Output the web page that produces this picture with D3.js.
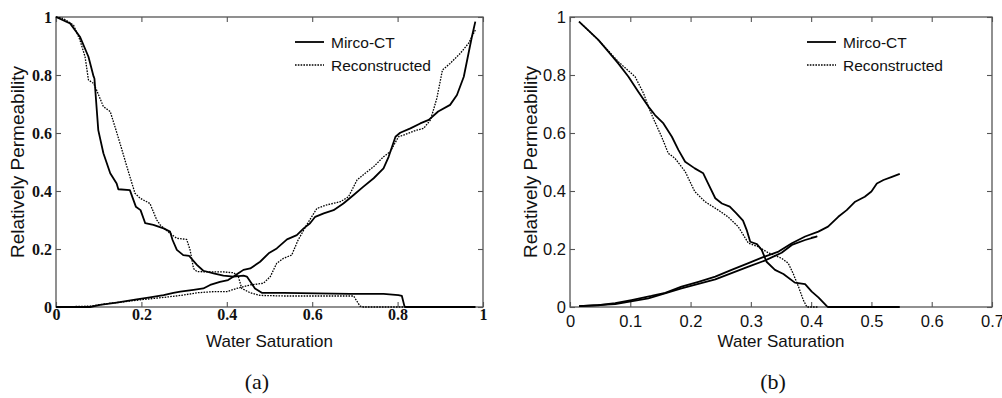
<!DOCTYPE html>
<html>
<head>
<meta charset="utf-8">
<script src="https://cdn.jsdelivr.net/npm/d3@7"></script>
<style>
  body { margin: 0; background: #fff; }
</style>
</head>
<body>
<div id="chart"></div>
<script>
// panel (a) curves, [water saturation, relative permeability]
var aOilMicro = [[0,1],[0.033,0.978],[0.056,0.932],[0.076,0.863],[0.088,0.795],[0.09,0.788],[0.099,0.61],[0.111,0.53],[0.127,0.461],[0.142,0.426],[0.146,0.406],[0.173,0.403],[0.187,0.346],[0.198,0.334],[0.209,0.289],[0.228,0.283],[0.252,0.271],[0.267,0.26],[0.273,0.231],[0.283,0.197],[0.298,0.179],[0.312,0.176],[0.33,0.145],[0.345,0.125],[0.369,0.116],[0.392,0.108],[0.416,0.105],[0.439,0.108],[0.447,0.105],[0.466,0.064],[0.482,0.049],[0.533,0.049],[0.611,0.047],[0.689,0.045],[0.767,0.045],[0.802,0.041],[0.81,0.038],[0.816,0.003],[0.818,0],[0.982,0]];
var aOilRecon = [[0,1],[0.017,0.995],[0.041,0.972],[0.056,0.921],[0.068,0.863],[0.076,0.783],[0.088,0.771],[0.095,0.748],[0.111,0.691],[0.127,0.674],[0.138,0.622],[0.15,0.564],[0.166,0.484],[0.185,0.392],[0.197,0.375],[0.22,0.357],[0.236,0.3],[0.244,0.283],[0.267,0.254],[0.283,0.237],[0.306,0.233],[0.314,0.197],[0.322,0.133],[0.33,0.122],[0.361,0.121],[0.392,0.121],[0.416,0.118],[0.427,0.105],[0.435,0.064],[0.455,0.049],[0.478,0.04],[0.533,0.038],[0.611,0.038],[0.697,0.038],[0.712,0.003],[0.72,0],[0.982,0]];
var aWaterMicro = [[0,0],[0.08,0],[0.103,0.007],[0.142,0.015],[0.189,0.026],[0.22,0.033],[0.252,0.041],[0.275,0.049],[0.291,0.053],[0.322,0.059],[0.345,0.064],[0.361,0.076],[0.384,0.087],[0.403,0.093],[0.416,0.105],[0.427,0.116],[0.439,0.128],[0.455,0.133],[0.478,0.156],[0.498,0.185],[0.517,0.202],[0.541,0.233],[0.564,0.248],[0.58,0.271],[0.595,0.289],[0.607,0.311],[0.627,0.323],[0.65,0.334],[0.673,0.357],[0.697,0.386],[0.72,0.415],[0.744,0.444],[0.767,0.478],[0.779,0.518],[0.795,0.587],[0.806,0.601],[0.83,0.616],[0.853,0.633],[0.873,0.645],[0.895,0.674],[0.923,0.697],[0.939,0.731],[0.955,0.794],[0.966,0.874],[0.974,0.932],[0.982,0.984]];
var aWaterRecon = [[0,0],[0.08,0.003],[0.111,0.01],[0.158,0.018],[0.205,0.026],[0.252,0.033],[0.298,0.041],[0.33,0.049],[0.369,0.053],[0.4,0.053],[0.423,0.064],[0.455,0.076],[0.486,0.082],[0.502,0.105],[0.517,0.151],[0.533,0.168],[0.552,0.179],[0.567,0.231],[0.587,0.283],[0.611,0.34],[0.634,0.352],[0.666,0.363],[0.685,0.38],[0.705,0.438],[0.724,0.461],[0.744,0.484],[0.767,0.518],[0.783,0.536],[0.802,0.587],[0.814,0.593],[0.845,0.61],[0.861,0.616],[0.877,0.645],[0.892,0.72],[0.905,0.817],[0.923,0.84],[0.947,0.875],[0.966,0.909],[0.982,0.955]];

// panel (b) curves
var bOilMicro = [[0.015,0.984],[0.03,0.955],[0.047,0.921],[0.064,0.88],[0.08,0.84],[0.097,0.794],[0.113,0.743],[0.13,0.691],[0.141,0.662],[0.155,0.633],[0.169,0.587],[0.18,0.541],[0.191,0.501],[0.207,0.478],[0.221,0.461],[0.229,0.426],[0.241,0.375],[0.252,0.357],[0.265,0.346],[0.276,0.323],[0.287,0.298],[0.293,0.266],[0.299,0.225],[0.31,0.217],[0.318,0.197],[0.326,0.156],[0.34,0.128],[0.354,0.114],[0.373,0.084],[0.39,0.079],[0.401,0.053],[0.412,0.033],[0.426,0.003],[0.428,0],[0.547,0]];
var bOilRecon = [[0.015,0.984],[0.047,0.921],[0.08,0.846],[0.108,0.794],[0.122,0.737],[0.13,0.691],[0.138,0.651],[0.152,0.587],[0.163,0.53],[0.174,0.513],[0.191,0.467],[0.207,0.398],[0.224,0.363],[0.246,0.334],[0.262,0.311],[0.279,0.277],[0.296,0.22],[0.312,0.208],[0.329,0.187],[0.351,0.168],[0.362,0.151],[0.37,0.116],[0.379,0.07],[0.387,0.024],[0.393,0],[0.412,0]];
var bWaterMicro = [[0.015,0.003],[0.047,0.006],[0.075,0.013],[0.102,0.024],[0.135,0.038],[0.158,0.049],[0.185,0.07],[0.213,0.087],[0.241,0.105],[0.268,0.128],[0.296,0.151],[0.323,0.174],[0.346,0.191],[0.368,0.22],[0.39,0.243],[0.412,0.26],[0.428,0.277],[0.445,0.311],[0.459,0.334],[0.473,0.363],[0.489,0.38],[0.5,0.398],[0.509,0.426],[0.52,0.438],[0.534,0.449],[0.547,0.459]];
var bWaterRecon = [[0.015,0.003],[0.075,0.01],[0.13,0.03],[0.185,0.064],[0.241,0.095],[0.296,0.139],[0.323,0.16],[0.351,0.187],[0.368,0.214],[0.39,0.231],[0.409,0.243],[0.4,0.238]];

var aTicksX = [0, 0.2, 0.4, 0.6, 0.8, 1];
var bTicksX = [0, 0.1, 0.2, 0.3, 0.4, 0.5, 0.6, 0.7];
var ticksY = [0, 0.2, 0.4, 0.6, 0.8, 1];
var legendLabels = ['Mirco-CT', 'Reconstructed'];
var xTitle = 'Water Saturation';
var yTitle = 'Relatively Permeability';

var svg = d3.select('#chart').append('svg')
    .attr('width', 1002)
    .attr('height', 398);

svg.append('rect').attr('width', 1002).attr('height', 398).attr('fill', '#fff');

var frameColor = '#555';

function drawPanel(p) {
    var x = d3.scaleLinear().domain([0, p.xMax]).range([p.left, p.right]);
    var y = d3.scaleLinear().domain([0, 1]).range([307, 17]);
    var g = svg.append('g');

    function styleAxis(sel) {
        sel.select('.domain').remove();
        sel.selectAll('line').attr('stroke', frameColor).attr('stroke-width', 1.1);
        sel.selectAll('text')
            .attr('font-family', p.tickFont)
            .attr('font-weight', p.tickWeight)
            .attr('font-size', p.tickSize)
            .attr('fill', '#111');
    }

    g.append('g').attr('transform', 'translate(0,307)')
        .call(d3.axisBottom(x).tickValues(p.ticksX).tickSize(-5).tickPadding(p.padX).tickFormat(String))
        .call(styleAxis);
    g.append('g').attr('transform', 'translate(0,17)')
        .call(d3.axisTop(x).tickValues(p.ticksX).tickSize(-5).tickFormat(''))
        .call(styleAxis);
    g.append('g').attr('transform', 'translate(' + p.left + ',0)')
        .call(d3.axisLeft(y).tickValues(ticksY).tickSize(-5).tickPadding(4).tickFormat(String))
        .call(styleAxis);
    g.append('g').attr('transform', 'translate(' + p.right + ',0)')
        .call(d3.axisRight(y).tickValues(ticksY).tickSize(-5).tickFormat(''))
        .call(styleAxis);

    g.append('rect')
        .attr('x', p.left).attr('y', 17)
        .attr('width', p.right - p.left).attr('height', 290)
        .attr('fill', 'none')
        .attr('stroke', frameColor)
        .attr('stroke-width', 1.3);

    var line = d3.line()
        .x(function (d) { return x(d[0]); })
        .y(function (d) { return y(d[1]); });

    p.series.forEach(function (s) {
        g.append('path')
            .datum(s.data)
            .attr('d', line)
            .attr('fill', 'none')
            .attr('stroke', '#000')
            .attr('stroke-width', s.dotted ? 1.3 : 1.8)
            .attr('stroke-dasharray', s.dotted ? '1.6,1.2' : null)
            .attr('stroke-linejoin', 'round');
    });

    // legend
    legendLabels.forEach(function (label, i) {
        var ly = 42 + i * 23;
        g.append('line')
            .attr('x1', p.legendX).attr('x2', p.legendX + 29)
            .attr('y1', ly).attr('y2', ly)
            .attr('stroke', '#000')
            .attr('stroke-width', i ? 1.3 : 1.8)
            .attr('stroke-dasharray', i ? '1.6,1.2' : null);
        g.append('text')
            .attr('x', p.legendX + 36).attr('y', ly + 5.5)
            .attr('font-family', 'Liberation Sans, Arial, sans-serif')
            .attr('font-size', 15.5)
            .attr('fill', '#111')
            .text(label);
    });

    var cx = (p.left + p.right) / 2;
    g.append('text')
        .attr('x', cx).attr('y', 347)
        .attr('text-anchor', 'middle')
        .attr('font-family', 'Liberation Sans, Arial, sans-serif')
        .attr('font-size', 17)
        .attr('fill', '#111')
        .text(xTitle);

    g.append('text')
        .attr('transform', 'translate(' + (p.yTitleX) + ',162) rotate(-90)')
        .attr('text-anchor', 'middle')
        .attr('font-family', 'Liberation Sans, Arial, sans-serif')
        .attr('font-size', 19)
        .attr('fill', '#111')
        .text(yTitle);

    g.append('text')
        .attr('x', p.captionX).attr('y', 389)
        .attr('text-anchor', 'middle')
        .attr('font-family', 'Liberation Serif, Times New Roman, serif')
        .attr('font-size', 22)
        .attr('fill', '#111')
        .text(p.caption);
}

drawPanel({
    left: 56, right: 483, xMax: 1, ticksX: aTicksX,
    tickFont: 'Liberation Serif, Times New Roman, serif', tickWeight: 'bold', tickSize: 16, padX: 2,
    legendX: 295, yTitleX: 24, captionX: 257, caption: '(a)',
    series: [
        {data: aOilMicro, dotted: false},
        {data: aOilRecon, dotted: true},
        {data: aWaterMicro, dotted: false},
        {data: aWaterRecon, dotted: true}
    ]
});

drawPanel({
    left: 570, right: 992, xMax: 0.7, ticksX: bTicksX,
    tickFont: 'Liberation Sans, Arial, sans-serif', tickWeight: 'normal', tickSize: 16.5, padX: 8,
    legendX: 807, yTitleX: 537, captionX: 773, caption: '(b)',
    series: [
        {data: bOilMicro, dotted: false},
        {data: bOilRecon, dotted: true},
        {data: bWaterMicro, dotted: false},
        {data: bWaterRecon, dotted: false}
    ]
});
</script>
</body>
</html>
